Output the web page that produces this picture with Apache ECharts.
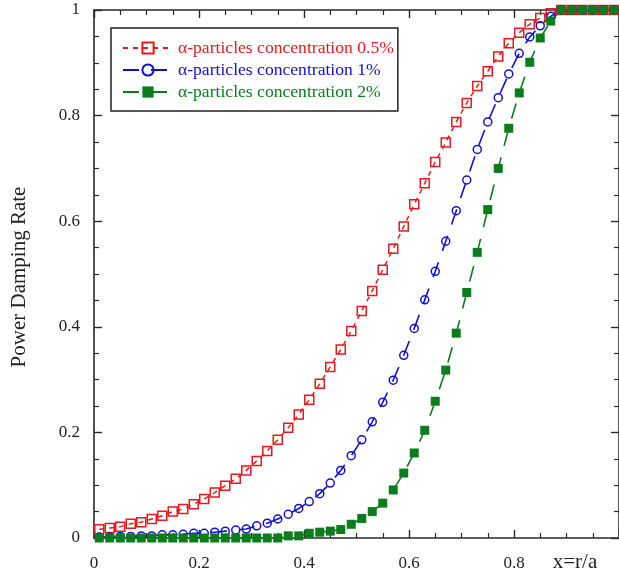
<!DOCTYPE html>
<html>
<head>
<meta charset="utf-8">
<script src="https://cdn.jsdelivr.net/npm/echarts@6/dist/echarts.min.js"></script>
<style>
html,body{margin:0;padding:0;background:#fff;}
#chart{width:619px;height:578px;}
</style>
</head>
<body>
<div id="chart"></div>
<script>
// x = r/a sample positions
var xValues = [0.01,0.03,0.05,0.07,0.09,0.11,0.13,0.15,0.17,0.19,
               0.21,0.23,0.25,0.27,0.29,0.31,0.33,0.35,0.37,0.39,
               0.41,0.43,0.45,0.47,0.49,0.51,0.53,0.55,0.57,0.59,
               0.61,0.63,0.65,0.67,0.69,0.71,0.73,0.75,0.77,0.79,
               0.81,0.83,0.85,0.87,0.89,0.91,0.93,0.95,0.97,0.99];
// alpha-particles concentration 0.5%
var conc05 = [0.0165,0.019,0.0215,0.027,0.030,0.036,0.042,0.050,0.055,0.064,
              0.074,0.086,0.099,0.112,0.128,0.146,0.165,0.186,0.209,0.234,
              0.262,0.292,0.324,0.357,0.392,0.430,0.468,0.508,0.548,0.590,
              0.632,0.672,0.712,0.749,0.788,0.824,0.856,0.884,0.912,0.937,
              0.957,0.973,0.985,0.994,1,1,1,1,1,1];
// alpha-particles concentration 1%
var conc1 = [0.002,0.002,0.003,0.003,0.004,0.004,0.006,0.006,0.007,0.009,
             0.009,0.011,0.013,0.015,0.017,0.023,0.028,0.036,0.045,0.056,
             0.069,0.084,0.104,0.128,0.156,0.186,0.220,0.257,0.299,0.346,
             0.397,0.451,0.505,0.562,0.620,0.678,0.736,0.788,0.834,0.879,
             0.918,0.949,0.970,0.988,1,1,1,1,1,1];
// alpha-particles concentration 2%
var conc2 = [0,0,0,0,0,0,0,0,0,0,
             0,0,0,0,0,0,0,0,0.004,0.004,
             0.009,0.011,0.013,0.016,0.026,0.037,0.050,0.066,0.091,0.123,
             0.161,0.204,0.259,0.318,0.388,0.465,0.541,0.622,0.700,0.776,
             0.843,0.901,0.947,0.979,1,1,1,1,1,1];
var seriesNames = ['\u03b1-particles concentration 0.5%','\u03b1-particles concentration 1%','\u03b1-particles concentration 2%'];
var yTicks = [0,0.2,0.4,0.6,0.8,1];
var xTicks = [0,0.2,0.4,0.6,0.8];

var RED='#e8191f', BLUE='#1010dc', GREEN='#0b7d1d';
var FONT='"Liberation Serif","DejaVu Serif",serif';
var AX='#2a2a2a';

function pairs(ys){ return xValues.map(function(x,i){return [x, ys[i]];}); }

function makeAxis(pos, label){
  return {
    type:'value', position:pos, min:0, max:1, interval:0.2,
    axisLine:{show:true, onZero:false, lineStyle:{color:AX, width:1.6}},
    axisTick:{show:true, inside:true, length:8, lineStyle:{color:AX, width:1.4}},
    minorTick:{show:true, splitNumber:4, length:5, lineStyle:{color:AX, width:1.2}},
    splitLine:{show:false}, minorSplitLine:{show:false},
    axisLabel: label ? label : {show:false}
  };
}

var chart = echarts.init(document.getElementById('chart'), null, {renderer:'canvas'});
chart.setOption({
  animation:false,
  backgroundColor:'#fff',
  grid:{left:94, right:-4, top:10, bottom:40, containLabel:false},
  xAxis:[
    makeAxis('bottom', {show:true, inside:false, margin:17, fontFamily:FONT, fontSize:17, color:'#222', showMaxLabel:false,
        formatter:function(v){ var r=Math.round(v*10)/10; return (xTicks.indexOf(r)>=0 && Math.abs(v-r)<1e-6) ? String(r) : ''; }}),
    makeAxis('top', null)
  ],
  yAxis:[
    makeAxis('left', {show:true, inside:false, margin:14, fontFamily:FONT, fontSize:17, color:'#222',
        formatter:function(v){ var r=Math.round(v*10)/10; return yTicks.indexOf(r)>=0 ? String(r) : ''; }}),
    makeAxis('right', null)
  ],
  legend:{
    orient:'vertical', left:111, top:28,
    padding:[11,4,10,11], itemGap:4, itemWidth:50, itemHeight:14,
    borderColor:'#222', borderWidth:1.5, borderRadius:0, backgroundColor:'#fff',
    textStyle:{fontFamily:FONT, fontSize:17.6},
    data:[
      {name:seriesNames[0], textStyle:{color:RED}},
      {name:seriesNames[1], textStyle:{color:BLUE}},
      {name:seriesNames[2], textStyle:{color:GREEN}}
    ]
  },
  graphic:[
    {type:'text', x:575, y:562, style:{text:'x=r/a', font:'21px "Liberation Serif", serif', fill:'#222', align:'center', verticalAlign:'middle'}},
    {type:'text', x:19, y:277, rotation:Math.PI/2, style:{text:'Power Damping Rate', font:'21px "Liberation Serif", serif', fill:'#222', align:'center', verticalAlign:'middle'}}
  ],
  series:[
    {name:seriesNames[0], type:'line', data:pairs(conc05), symbol:'rect', symbolSize:9,
     lineStyle:{color:RED, width:1.5, type:[5,5]},
     itemStyle:{color:'rgba(255,255,255,0)', borderColor:RED, borderWidth:1.5}},
    {name:seriesNames[1], type:'line', data:pairs(conc1), symbol:'circle', symbolSize:8,
     lineStyle:{color:BLUE, width:1.6, type:[16,12]},
     itemStyle:{color:'rgba(255,255,255,0)', borderColor:BLUE, borderWidth:1.5}},
    {name:seriesNames[2], type:'line', data:pairs(conc2), symbol:'rect', symbolSize:9,
     lineStyle:{color:GREEN, width:1.6, type:[16,12]},
     itemStyle:{color:GREEN, borderColor:GREEN, borderWidth:0}}
  ]
});
</script>
</body>
</html>
